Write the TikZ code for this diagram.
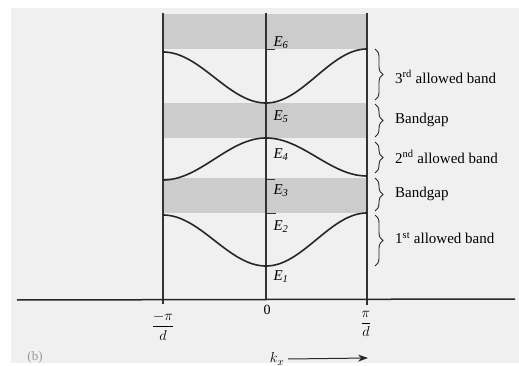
\documentclass[tikz,border=0pt]{standalone}
\usepackage{fontspec}
\setmainfont{Liberation Serif}
\usetikzlibrary{decorations.pathreplacing,arrows.meta}
\begin{document}
\begin{tikzpicture}[x=1pt,y=-1pt,
  frame/.style={line width=1.1pt, black!80},
  bandcurve/.style={line width=1.6pt, black!85},
  gapfill/.style={fill=black!20},
  tick/.style={line width=0.9pt, black!80},
  lbl/.style={font=\fontsize{15}{18}\selectfont, anchor=west, inner sep=0pt},
  elbl/.style={font=\fontsize{15}{18}\selectfont\itshape, inner sep=0pt},
  axlbl/.style={font=\fontsize{14}{16}\selectfont, inner sep=0pt},
  bracestyle/.style={decorate, decoration={brace, amplitude=8pt}, line width=0.9pt, black!85},
]
\useasboundingbox (0,0) rectangle (519,366);
\fill[black!6] (11,8) rectangle (519,363);

% shaded bandgaps
\fill[gapfill] (163,14) rectangle (367,49);
\fill[gapfill] (163,103) rectangle (367,138);
\fill[gapfill] (163,178) rectangle (367,213);

% frame lines
\coordinate (Ltop) at (163,13); \coordinate (Lbot) at (163,304);
\coordinate (Mtop) at (266,13); \coordinate (Mbot) at (266,300);
\coordinate (Rtop) at (367,13); \coordinate (Rbot) at (367,305);
\coordinate (axL) at (17,300); \coordinate (axR) at (515,299);
\draw[frame] (Ltop) -- (Lbot);
\draw[frame] (Mtop) -- (Mbot);
\draw[frame] (Rtop) -- (Rbot);
\draw[line width=1.5pt, black!85] (axL) -- (axR);

% band curves
\draw[bandcurve] plot[domain=0:180,samples=50] ({266-0.5722*\x},{103-25.5*(1-cos(\x))});
\draw[bandcurve] plot[domain=0:180,samples=50] ({266+0.5611*\x},{103-27*(1-cos(\x))});
\draw[bandcurve] plot[domain=0:180,samples=50] ({266-0.5722*\x},{138+21*(1-cos(\x))});
\draw[bandcurve] plot[domain=0:180,samples=50] ({266+0.5611*\x},{138+19*(1-cos(\x))});
\draw[bandcurve] plot[domain=0:180,samples=50] ({266-0.5722*\x},{266-25.5*(1-cos(\x))});
\draw[bandcurve] plot[domain=0:180,samples=50] ({266+0.5611*\x},{266-26.5*(1-cos(\x))});

% level ticks
\coordinate (t6a) at (266,49); \coordinate (t6b) at (275,49);
\coordinate (t3a) at (266,179); \coordinate (t3b) at (275,179);
\coordinate (t2a) at (266,213); \coordinate (t2b) at (276,213);
\draw[tick] (t6a) -- (t6b);
\draw[tick] (t3a) -- (t3b);
\draw[tick] (t2a) -- (t2b);

% energy labels
\node[elbl] (E6) at (281,43) {E\textsubscript{6}};
\node[elbl] (E5) at (281,117) {E\textsubscript{5}};
\node[elbl] (E4) at (281,155) {E\textsubscript{4}};
\node[elbl] (E3) at (281,191) {E\textsubscript{3}};
\node[elbl] (E2) at (281,227) {E\textsubscript{2}};
\node[elbl] (E1) at (281,277) {E\textsubscript{1}};

% braces
\coordinate (b3a) at (375,49);  \coordinate (b3b) at (375,100);
\coordinate (g2a) at (375,104); \coordinate (g2b) at (375,137);
\coordinate (b2a) at (375,142); \coordinate (b2b) at (375,173);
\coordinate (g1a) at (375,178); \coordinate (g1b) at (375,211);
\coordinate (b1a) at (375,215); \coordinate (b1b) at (375,266);
\draw[bracestyle] (b3a) -- (b3b);
\draw[bracestyle] (g2a) -- (g2b);
\draw[bracestyle] (b2a) -- (b2b);
\draw[bracestyle] (g1a) -- (g1b);
\draw[bracestyle] (b1a) -- (b1b);

\node[lbl] (L3) at (395,77) {3\textsuperscript{rd} allowed band};
\node[lbl] (G2) at (395,120) {Bandgap};
\node[lbl] (L2) at (395,157) {2\textsuperscript{nd} allowed band};
\node[lbl] (G1) at (395,194) {Bandgap};
\node[lbl] (L1) at (395,238) {1\textsuperscript{st} allowed band};

% axis labels
\node[axlbl] (zero) at (267,310) {0};
\node[axlbl] (mpi) at (163,326) {$\displaystyle\frac{-\pi}{d}$};
\node[axlbl] (ppi) at (366,324) {$\displaystyle\frac{\pi}{d}$};
\node[font=\fontsize{15}{18}\selectfont, inner sep=0pt] (kx) at (277,359) {$k_x$};
\coordinate (kend) at (368,358);
\draw[-{Stealth[length=10pt,width=7pt]}, line width=1pt, black!85] (kx.east) ++(4pt,0) -- (kend);
\node[font=\fontsize{13}{15}\selectfont, text=black!40, inner sep=0pt] (b) at (35,357) {(b)};
\end{tikzpicture}
\end{document}
